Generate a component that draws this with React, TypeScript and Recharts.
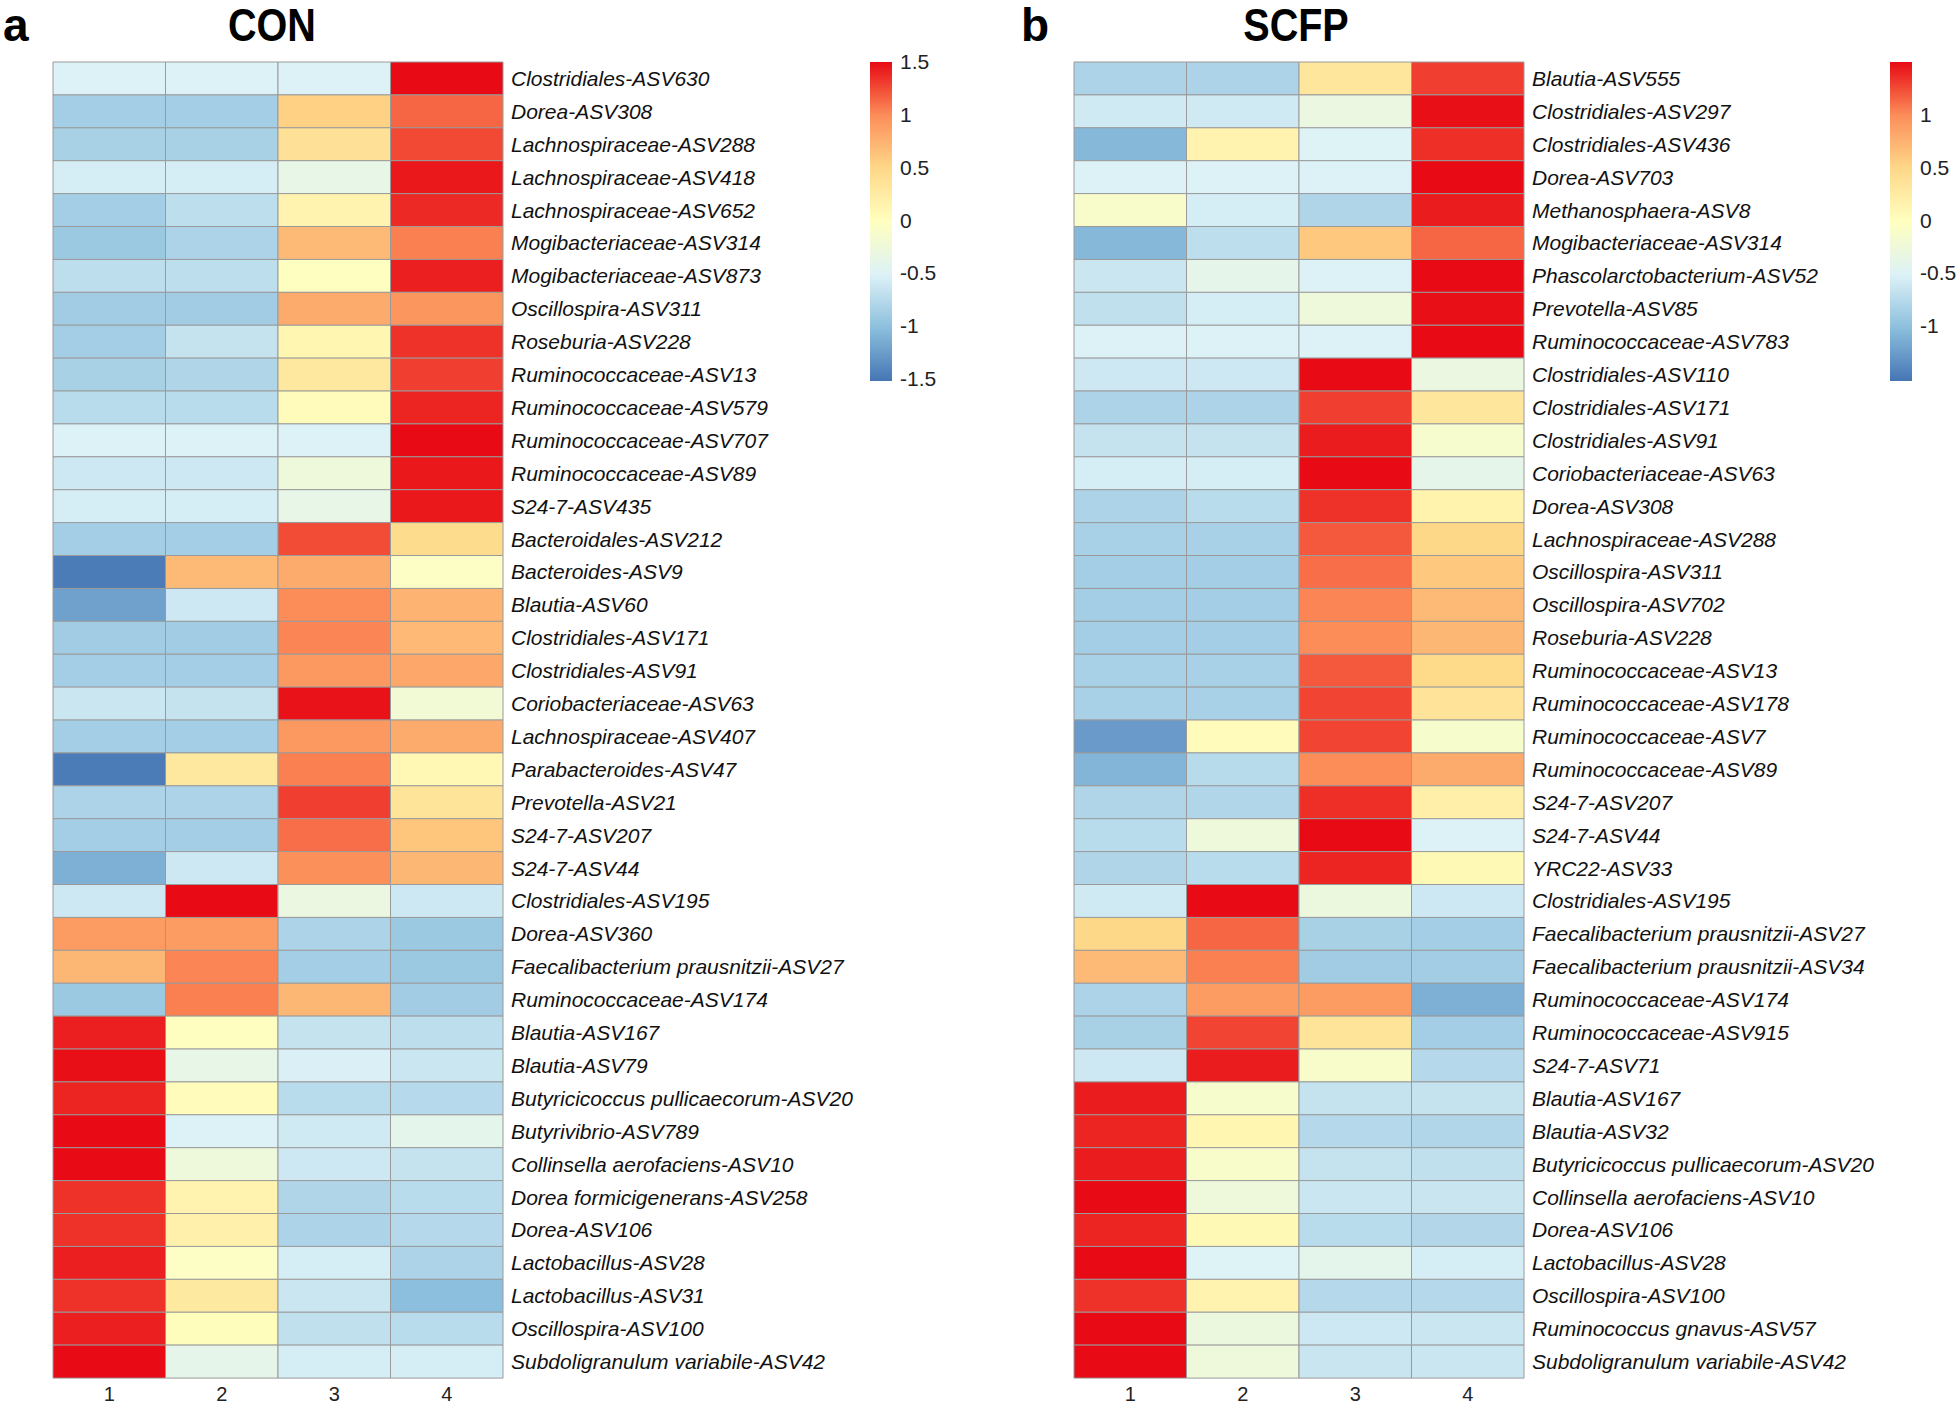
import React from 'react'
import { BarChart, Bar, Cell, XAxis, YAxis } from 'recharts'

const columns = ['1', '2', '3', '4']

const conLabels = [
  'Clostridiales-ASV630', 'Dorea-ASV308', 'Lachnospiraceae-ASV288', 'Lachnospiraceae-ASV418',
  'Lachnospiraceae-ASV652', 'Mogibacteriaceae-ASV314', 'Mogibacteriaceae-ASV873', 'Oscillospira-ASV311',
  'Roseburia-ASV228', 'Ruminococcaceae-ASV13', 'Ruminococcaceae-ASV579', 'Ruminococcaceae-ASV707',
  'Ruminococcaceae-ASV89', 'S24-7-ASV435', 'Bacteroidales-ASV212', 'Bacteroides-ASV9',
  'Blautia-ASV60', 'Clostridiales-ASV171', 'Clostridiales-ASV91', 'Coriobacteriaceae-ASV63',
  'Lachnospiraceae-ASV407', 'Parabacteroides-ASV47', 'Prevotella-ASV21', 'S24-7-ASV207',
  'S24-7-ASV44', 'Clostridiales-ASV195', 'Dorea-ASV360', 'Faecalibacterium prausnitzii-ASV27',
  'Ruminococcaceae-ASV174', 'Blautia-ASV167', 'Blautia-ASV79', 'Butyricicoccus pullicaecorum-ASV20',
  'Butyrivibrio-ASV789', 'Collinsella aerofaciens-ASV10', 'Dorea formicigenerans-ASV258', 'Dorea-ASV106',
  'Lactobacillus-ASV28', 'Lactobacillus-ASV31', 'Oscillospira-ASV100', 'Subdoligranulum variabile-ASV42',
]

// row z-scores, columns 1..4
const conValues = [
  [-0.5, -0.5, -0.5, 1.5],
  [-0.85, -0.85, 0.55, 1.15],
  [-0.82, -0.82, 0.38, 1.26],
  [-0.55, -0.55, -0.35, 1.45],
  [-0.85, -0.7, 0.15, 1.38],
  [-0.9, -0.8, 0.7, 1.05],
  [-0.7, -0.7, -0.02, 1.42],
  [-0.87, -0.87, 0.8, 0.94],
  [-0.85, -0.65, 0.12, 1.35],
  [-0.82, -0.78, 0.3, 1.3],
  [-0.72, -0.72, 0.05, 1.4],
  [-0.5, -0.5, -0.5, 1.5],
  [-0.6, -0.6, -0.25, 1.45],
  [-0.55, -0.55, -0.35, 1.45],
  [-0.85, -0.85, 1.25, 0.45],
  [-1.45, 0.7, 0.8, -0.05],
  [-1.2, -0.6, 1.0, 0.75],
  [-0.87, -0.87, 1.03, 0.71],
  [-0.85, -0.85, 0.92, 0.82],
  [-0.62, -0.65, 1.47, -0.2],
  [-0.85, -0.85, 0.92, 0.8],
  [-1.45, 0.3, 1.05, 0.1],
  [-0.8, -0.8, 1.3, 0.35],
  [-0.85, -0.85, 1.12, 0.62],
  [-1.1, -0.6, 0.98, 0.72],
  [-0.6, 1.5, -0.3, -0.6],
  [0.9, 0.9, -0.8, -0.9],
  [0.72, 1.03, -0.85, -0.9],
  [-0.9, 1.05, 0.72, -0.87],
  [1.42, -0.02, -0.65, -0.7],
  [1.48, -0.35, -0.52, -0.62],
  [1.4, 0.05, -0.72, -0.74],
  [1.5, -0.5, -0.58, -0.4],
  [1.5, -0.25, -0.6, -0.65],
  [1.35, 0.15, -0.78, -0.72],
  [1.35, 0.18, -0.8, -0.75],
  [1.42, -0.05, -0.55, -0.8],
  [1.35, 0.28, -0.62, -1.0],
  [1.42, 0.03, -0.68, -0.72],
  [1.5, -0.38, -0.55, -0.55],
]

const scfpLabels = [
  'Blautia-ASV555', 'Clostridiales-ASV297', 'Clostridiales-ASV436', 'Dorea-ASV703',
  'Methanosphaera-ASV8', 'Mogibacteriaceae-ASV314', 'Phascolarctobacterium-ASV52', 'Prevotella-ASV85',
  'Ruminococcaceae-ASV783', 'Clostridiales-ASV110', 'Clostridiales-ASV171', 'Clostridiales-ASV91',
  'Coriobacteriaceae-ASV63', 'Dorea-ASV308', 'Lachnospiraceae-ASV288', 'Oscillospira-ASV311',
  'Oscillospira-ASV702', 'Roseburia-ASV228', 'Ruminococcaceae-ASV13', 'Ruminococcaceae-ASV178',
  'Ruminococcaceae-ASV7', 'Ruminococcaceae-ASV89', 'S24-7-ASV207', 'S24-7-ASV44',
  'YRC22-ASV33', 'Clostridiales-ASV195', 'Faecalibacterium prausnitzii-ASV27', 'Faecalibacterium prausnitzii-ASV34',
  'Ruminococcaceae-ASV174', 'Ruminococcaceae-ASV915', 'S24-7-ASV71', 'Blautia-ASV167',
  'Blautia-ASV32', 'Butyricicoccus pullicaecorum-ASV20', 'Collinsella aerofaciens-ASV10', 'Dorea-ASV106',
  'Lactobacillus-ASV28', 'Oscillospira-ASV100', 'Ruminococcus gnavus-ASV57', 'Subdoligranulum variabile-ASV42',
]

const scfpValues = [
  [-0.8, -0.8, 0.32, 1.3],
  [-0.58, -0.58, -0.3, 1.48],
  [-1.05, 0.15, -0.48, 1.36],
  [-0.5, -0.5, -0.5, 1.5],
  [-0.1, -0.55, -0.78, 1.43],
  [-1.05, -0.7, 0.6, 1.15],
  [-0.62, -0.38, -0.5, 1.5],
  [-0.68, -0.55, -0.25, 1.48],
  [-0.5, -0.5, -0.5, 1.5],
  [-0.6, -0.6, 1.5, -0.3],
  [-0.8, -0.8, 1.3, 0.32],
  [-0.65, -0.65, 1.43, -0.13],
  [-0.55, -0.55, 1.5, -0.38],
  [-0.8, -0.72, 1.35, 0.16],
  [-0.83, -0.83, 1.2, 0.5],
  [-0.85, -0.85, 1.12, 0.6],
  [-0.85, -0.85, 1.03, 0.7],
  [-0.85, -0.85, 1.0, 0.72],
  [-0.83, -0.83, 1.2, 0.48],
  [-0.83, -0.83, 1.28, 0.36],
  [-1.25, 0.05, 1.28, -0.12],
  [-1.07, -0.73, 1.0, 0.8],
  [-0.78, -0.77, 1.36, 0.2],
  [-0.72, -0.25, 1.5, -0.5],
  [-0.78, -0.72, 1.4, 0.08],
  [-0.58, 1.5, -0.28, -0.6],
  [0.5, 1.15, -0.82, -0.85],
  [0.7, 1.05, -0.87, -0.86],
  [-0.8, 0.9, 0.9, -1.1],
  [-0.82, 1.28, 0.35, -0.85],
  [-0.6, 1.43, -0.1, -0.75],
  [1.43, -0.12, -0.65, -0.65],
  [1.4, 0.12, -0.75, -0.77],
  [1.43, -0.1, -0.65, -0.68],
  [1.5, -0.25, -0.62, -0.63],
  [1.4, 0.08, -0.72, -0.76],
  [1.5, -0.48, -0.4, -0.55],
  [1.35, 0.15, -0.75, -0.75],
  [1.5, -0.28, -0.6, -0.62],
  [1.5, -0.25, -0.63, -0.62],
]

const conLegendTicks = [1.5, 1, 0.5, 0, -0.5, -1, -1.5]
const scfpLegendTicks = [1, 0.5, 0, -0.5, -1]

const colourStops: [number, string][] = [
  [-1.5, '#4575B4'],
  [-1, '#8CBFDD'],
  [-0.5, '#DDF2F7'],
  [0, '#FFFFBF'],
  [0.5, '#FED889'],
  [1, '#FC8D59'],
  [1.5, '#E80A14'],
]

const hex = (c: string) => [1, 3, 5].map((i) => parseInt(c.slice(i, i + 2), 16))

function colour(v: number) {
  const x = Math.max(-1.5, Math.min(1.5, v))
  for (let i = 1; i < colourStops.length; i++) {
    const [v0, c0] = colourStops[i - 1]
    const [v1, c1] = colourStops[i]
    if (x <= v1) {
      const t = (x - v0) / (v1 - v0)
      const a = hex(c0)
      const b = hex(c1)
      const rgb = a.map((ch, k) => Math.round(ch + (b[k] - ch) * t))
      return `rgb(${rgb.join(',')})`
    }
  }
  return colourStops[colourStops.length - 1][1]
}

const FONT = "'Liberation Sans', Arial, sans-serif"

function Heatmap({ labels, values, left }: { labels: string[]; values: number[][]; left: number }) {
  const data = labels.map((name) => {
    const row: Record<string, any> = { name }
    columns.forEach((_, j) => (row[`c${j}`] = 1))
    return row
  })
  return (
    <div style={{ position: 'absolute', left, top: 0 }}>
      <BarChart
        width={863}
        height={1404}
        data={data}
        layout="vertical"
        barCategoryGap={0}
        barGap={0}
        margin={{ top: 62, left: 53, right: 0, bottom: 0 }}
      >
        <XAxis
          type="number"
          domain={[0, columns.length]}
          ticks={columns.map((_, j) => j + 0.5)}
          tickFormatter={(v: number) => columns[Math.floor(v)]}
          axisLine={false}
          tickLine={false}
          tickSize={7}
          height={26}
          tick={{ fill: '#222', fontSize: 20, fontFamily: FONT }}
        />
        <YAxis
          type="category"
          dataKey="name"
          orientation="right"
          width={360}
          interval={0}
          axisLine={false}
          tickLine={false}
          tickSize={6}
          tick={{ fill: '#111', fontSize: 21, fontStyle: 'italic', fontFamily: FONT, textAnchor: 'start' }}
        />
        {columns.map((_, j) => (
          <Bar
            key={j}
            dataKey={`c${j}`}
            stackId="s"
            stroke="#9a9a9a"
            strokeWidth={1}
            isAnimationActive={false}
          >
            {values.map((row, i) => (
              <Cell key={i} fill={colour(row[j])} />
            ))}
          </Bar>
        ))}
      </BarChart>
    </div>
  )
}

function ColourBar({ left, ticks, id }: { left: number; ticks: number[]; id: string }) {
  const top = 62
  const bottom = 381
  const y = (v: number) => 222 - v * 105.5
  return (
    <svg style={{ position: 'absolute', left, top: 0 }} width={90} height={420}>
      <defs>
        <linearGradient id={id} x1="0" y1="1" x2="0" y2="0">
          {colourStops.map(([v, c]) => (
            <stop key={v} offset={`${((v + 1.5) / 3) * 100}%`} stopColor={c} />
          ))}
        </linearGradient>
      </defs>
      <rect x={0} y={top} width={22} height={bottom - top} fill={`url(#${id})`} />
      {ticks.map((t) => (
        <text
          key={t}
          x={30}
          y={y(t)}
          dominantBaseline="middle"
          fontSize={21}
          fontFamily={FONT}
          fill="#222"
        >
          {t}
        </text>
      ))}
    </svg>
  )
}

const titleStyle: React.CSSProperties = {
  position: 'absolute',
  top: 0,
  fontFamily: FONT,
  fontWeight: 'bold',
  fontSize: 46,
  lineHeight: '50px',
  color: '#000',
}

export default function App() {
  return (
    <div
      style={{
        position: 'absolute',
        left: 0,
        top: 0,
        width: 1959,
        height: 1406,
        background: '#fff',
        overflow: 'hidden',
      }}
    >
      <div style={{ ...titleStyle, left: 3 }}>a</div>
      <div style={{ ...titleStyle, left: 172, width: 200, textAlign: 'center', transform: 'scaleX(0.86)' }}>CON</div>
      <div style={{ ...titleStyle, left: 1021 }}>b</div>
      <div style={{ ...titleStyle, left: 1196, width: 200, textAlign: 'center', transform: 'scaleX(0.86)' }}>SCFP</div>
      <Heatmap labels={conLabels} values={conValues} left={0} />
      <Heatmap labels={scfpLabels} values={scfpValues} left={1021} />
      <ColourBar left={870} ticks={conLegendTicks} id="gradCon" />
      <ColourBar left={1890} ticks={scfpLegendTicks} id="gradScfp" />
    </div>
  )
}
